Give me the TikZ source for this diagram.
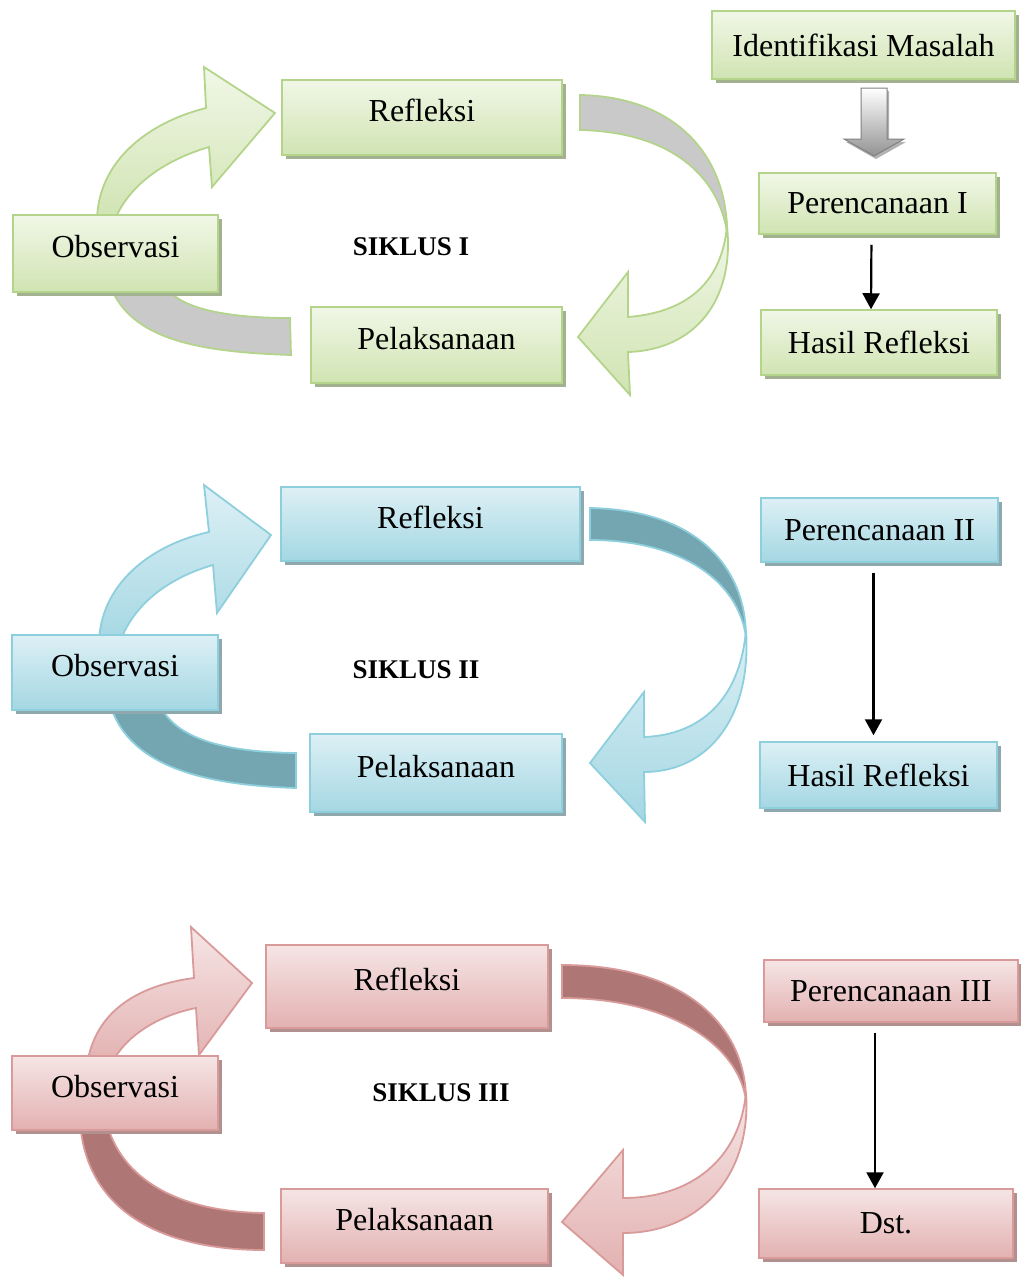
\documentclass[tikz,border=0pt]{standalone}
\usepackage{fontspec}
\setmainfont{Liberation Serif}
\usetikzlibrary{shadows,arrows.meta}

\definecolor{grnLine}{HTML}{B5D48B}
\definecolor{grnTop}{HTML}{F1F7E7}
\definecolor{grnBot}{HTML}{D0E4B2}
\definecolor{grnShadow}{HTML}{A3B28E}
\definecolor{grnBack}{HTML}{C9C9C9}
\definecolor{bluLine}{HTML}{8ECFDD}
\definecolor{bluTop}{HTML}{DDF0F5}
\definecolor{bluBot}{HTML}{A4D7E3}
\definecolor{bluShadow}{HTML}{8EA8AE}
\definecolor{bluBack}{HTML}{74A6B1}
\definecolor{redLine}{HTML}{D99A9A}
\definecolor{redTop}{HTML}{F6E5E5}
\definecolor{redBot}{HTML}{E3B1B1}
\definecolor{redShadow}{HTML}{B39090}
\definecolor{redBack}{HTML}{AE7675}

\begin{document}
\begin{tikzpicture}[x=1pt,y=-1pt,
    font=\fontsize{32}{37}\selectfont,
    box/.style={draw=#1Line, line width=1.5pt, top color=#1Top, bottom color=#1Bot,
      drop shadow={shadow xshift=4pt, shadow yshift=-4pt, fill=#1Shadow, opacity=1},
      inner sep=0pt},
    cyc/.style={text depth=14pt},
    siklus/.style={font=\fontsize{27}{31}\selectfont\bfseries},
    ribfront/.style={draw=#1Line, line width=1.8pt, top color=#1Top, bottom color=#1Bot},
    ribback/.style={draw=#1Line, line width=1.8pt, fill=#1Back},
    conn/.style={line width=2.2pt, -{Triangle[width=17pt,length=16pt]}, shorten <=10pt}]
\useasboundingbox (0,0) rectangle (1020,1277);

% siklus I ribbons
\draw[ribfront=grn] (97,222) .. controls (97,160) and (150,122) .. (206,108) -- (204,67)
  -- (275,113) -- (212,187) -- (209,147) .. controls (165,160) and (128,185) .. (114,222) -- cycle;
\draw[ribback=grn] (580,95) .. controls (680,97) and (727,160) .. (727,232)
  .. controls (718,175) and (670,132) .. (580,130) -- cycle;
\draw[ribfront=grn] (727,226) .. controls (735,300) and (695,350) .. (628,352) -- (630,395)
  -- (578,337) -- (628,272) -- (628,317) .. controls (690,312) and (722,280) .. (727,226) -- cycle;
\draw[ribback=grn] (110,285) .. controls (130,340) and (200,352) .. (291,355) -- (290,318)
  .. controls (215,318) and (175,305) .. (165,285) -- cycle;

% siklus II ribbons
\draw[ribfront=blu] (99,645) .. controls (99,585) and (150,545) .. (209,532) -- (204,485)
  -- (271,535) -- (217,613) -- (213,565) .. controls (168,578) and (132,605) .. (119,645) -- cycle;
\draw[ribback=blu] (590,508) .. controls (700,510) and (746,570) .. (746,637)
  .. controls (738,580) and (680,540) .. (590,540) -- cycle;
\draw[ribfront=blu] (746,630) .. controls (752,715) and (710,772) .. (644,772) -- (645,822)
  -- (590,763) -- (644,692) -- (644,737) .. controls (700,735) and (740,700) .. (746,630) -- cycle;
\draw[ribback=blu] (109,700) .. controls (125,765) and (200,785) .. (296,788) -- (296,753)
  .. controls (215,752) and (170,735) .. (158,700) -- cycle;

% siklus III ribbons
\draw[ribfront=red] (87,1065) .. controls (95,1010) and (140,985) .. (194,978) -- (191,927)
  -- (252,983) -- (199,1055) -- (196,1008) .. controls (160,1015) and (125,1035) .. (111,1065) -- cycle;
\draw[ribback=red] (562,965) .. controls (690,965) and (746,1030) .. (746,1100)
  .. controls (738,1045) and (670,998) .. (562,998) -- cycle;
\draw[ribfront=red] (746,1092) .. controls (752,1175) and (700,1233) .. (623,1233) -- (623,1275)
  -- (562,1222) -- (623,1150) -- (623,1198) .. controls (690,1198) and (740,1160) .. (746,1092) -- cycle;
\draw[ribback=red] (80,1120) .. controls (85,1210) and (160,1250) .. (264,1250) -- (264,1213)
  .. controls (180,1212) and (120,1180) .. (106,1120) -- cycle;

% siklus I
\node[box=grn, cyc, minimum width=280pt, minimum height=75pt] (ref1) at (422,117.5) {Refleksi};
\node[box=grn, cyc, minimum width=205pt, minimum height=77pt] (obs1) at (115.5,253.5) {Observasi};
\node[box=grn, cyc, minimum width=251pt, minimum height=76pt] (pel1) at (436.5,345) {Pelaksanaan};
\node[siklus] (sik1) at (411,247) {SIKLUS I};
\node[box=grn, minimum width=303pt, minimum height=68pt] (idm) at (863.5,45) {Identifikasi Masalah};
\node[box=grn, minimum width=237pt, minimum height=61pt] (per1) at (877.5,203.5) {Perencanaan I};
\node[box=grn, minimum width=236pt, minimum height=65pt] (has1) at (879,342.5) {Hasil Refleksi};
\draw[draw=gray, line width=1pt, top color=white, bottom color=gray!85,
  drop shadow={shadow xshift=2pt, shadow yshift=-3pt, fill=gray!60, opacity=1}]
  (861,88) -- (887,88) -- (887,139) -- (904,139) -- (874,156) -- (844,139) -- (861,139) -- cycle;
\draw[conn] ([xshift=-6pt]per1.south) -- ([xshift=-8pt]has1.north);

% siklus II
\node[box=blu, cyc, minimum width=299pt, minimum height=74pt] (ref2) at (430.5,524) {Refleksi};
\node[box=blu, cyc, minimum width=206pt, minimum height=75pt] (obs2) at (115,672.5) {Observasi};
\node[box=blu, cyc, minimum width=252pt, minimum height=78pt] (pel2) at (436,773) {Pelaksanaan};
\node[siklus] (sik2) at (416,670) {SIKLUS II};
\node[box=blu, minimum width=237pt, minimum height=64pt] (per2) at (879.5,530) {Perencanaan II};
\node[box=blu, minimum width=237pt, minimum height=66pt] (has2) at (878.5,775) {Hasil Refleksi};
\draw[conn, shorten >=6pt] ([xshift=-6pt]per2.south) -- ([xshift=-5pt]has2.north);

% siklus III
\node[box=red, cyc, minimum width=282pt, minimum height=83pt] (ref3) at (407,986.5) {Refleksi};
\node[box=red, cyc, minimum width=206pt, minimum height=74pt] (obs3) at (115,1093) {Observasi};
\node[box=red, cyc, minimum width=267pt, minimum height=74pt] (pel3) at (414.5,1226) {Pelaksanaan};
\node[siklus] (sik3) at (441,1093) {SIKLUS III};
\node[box=red, minimum width=254pt, minimum height=62pt] (per3) at (891,991) {Perencanaan III};
\node[box=red, minimum width=254pt, minimum height=69pt] (dst) at (886,1223.5) {Dst.};
\draw[conn] ([xshift=-16pt]per3.south) -- ([xshift=-11pt]dst.north);

\end{tikzpicture}
\end{document}
